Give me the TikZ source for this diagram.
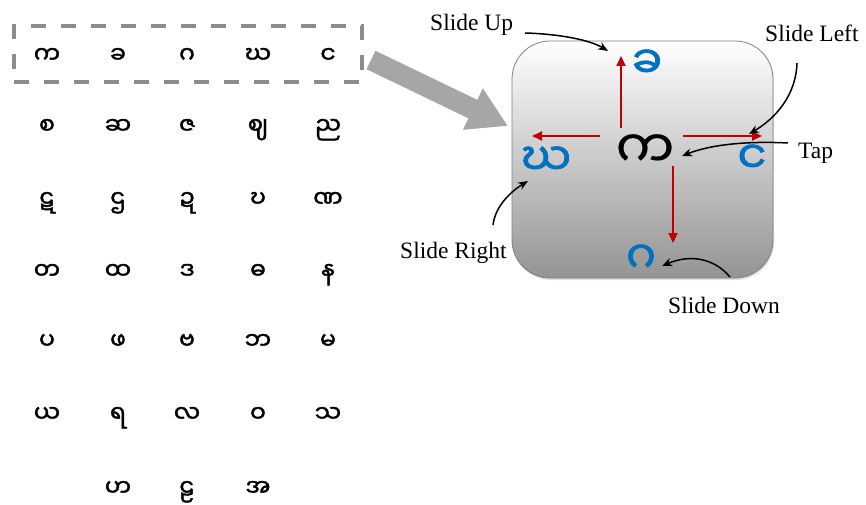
\documentclass[tikz,border=0pt]{standalone}
\usepackage{fontspec}
\setmainfont{Liberation Serif}
\newfontfamily\mya[Script=Myanmar,FakeBold=0.6]{Noto Sans Myanmar UI}
\newfontfamily\myab[Script=Myanmar,FakeBold=1.6]{Noto Sans Myanmar UI}
\usetikzlibrary{arrows.meta,shadows}
\definecolor{padblue}{HTML}{0070C0}
\definecolor{arrred}{HTML}{C00000}
\begin{document}
\begin{tikzpicture}[x=1pt,y=-1pt,
  gridch/.style={font=\myab\fontsize{23.5}{26}\selectfont, anchor=base, inner sep=0pt},
  bluech/.style={font=\myab\fontsize{45}{48}\selectfont, text=padblue, inner sep=0pt},
  lbl/.style={font=\fontsize{23.5}{26}\selectfont, anchor=base west, inner sep=0pt},
  redarr/.style={draw=arrred, line width=2.2pt, -{Triangle[length=10pt,width=9pt,fill=arrred]}},
  callout/.style={draw=black, line width=1.5pt, -{Stealth[length=10pt,width=8pt]}},
  dashbox/.style={draw=black!45, line width=3.2pt, dash pattern=on 15pt off 15pt, minimum width=348pt, minimum height=56pt, inner sep=0pt},
  pad/.style={draw=black!50, line width=0.8pt, rounded corners=38pt, minimum width=261pt, minimum height=237pt, top color=white, bottom color=black!42, drop shadow={opacity=0.25, shadow xshift=1pt, shadow yshift=-2pt}}]
\useasboundingbox (0,0) rectangle (866,505);

% selection box
\node[dashbox] (sel) at (188,54) {};

% grid of consonants
\node[gridch] (g11) at (47,63) {က};
\node[gridch] (g12) at (118,63) {ခ};
\node[gridch] (g13) at (187,63) {ဂ};
\node[gridch] (g14) at (258,63) {ဃ};
\node[gridch] (g15) at (328,63) {င};

\node[gridch] (g21) at (47,134) {စ};
\node[gridch] (g22) at (118,134) {ဆ};
\node[gridch] (g23) at (187,134) {ဇ};
\node[gridch] (g24) at (258,134) {ဈ};
\node[gridch] (g25) at (328,134) {ည};

\node[gridch] (g31) at (47,207) {ဋ};
\node[gridch] (g32) at (118,207) {ဌ};
\node[gridch] (g33) at (187,207) {ဍ};
\node[gridch] (g34) at (258,207) {ဎ};
\node[gridch] (g35) at (328,207) {ဏ};

\node[gridch] (g41) at (47,279) {တ};
\node[gridch] (g42) at (118,279) {ထ};
\node[gridch] (g43) at (187,279) {ဒ};
\node[gridch] (g44) at (258,279) {ဓ};
\node[gridch] (g45) at (328,279) {န};

\node[gridch] (g51) at (47,349) {ပ};
\node[gridch] (g52) at (118,349) {ဖ};
\node[gridch] (g53) at (187,349) {ဗ};
\node[gridch] (g54) at (258,349) {ဘ};
\node[gridch] (g55) at (328,349) {မ};

\node[gridch] (g61) at (47,422) {ယ};
\node[gridch] (g62) at (118,422) {ရ};
\node[gridch] (g63) at (187,422) {လ};
\node[gridch] (g64) at (258,422) {ဝ};
\node[gridch] (g65) at (328,422) {သ};

\node[gridch] (g72) at (118,496) {ဟ};
\node[gridch] (g73) at (187,496) {ဠ};
\node[gridch] (g74) at (258,496) {အ};

% big grey arrow
\coordinate (bigtail) at (371,60);
\coordinate (bigtip) at (508,126);
\draw[line width=20.5pt, draw=black!35, -{Triangle[length=39pt,width=43pt,fill=black!35]}] (bigtail) -- (bigtip);

% key pad
\node[pad] (keypad) at (642.5,159.5) {};
\node[font=\mya\fontsize{52}{56}\selectfont, inner sep=0pt] (center) at (645,151) {က};
\node[bluech] (up) at (647,64) {ခ};
\node[bluech] (left) at (546,161) {ဃ};
\node[bluech] (right) at (752,159) {င};
\node[bluech] (down) at (641,259) {ဂ};

% red swipe arrows
\coordinate (uS) at (621,128); \coordinate (uE) at (621,56);
\coordinate (lS) at (600,136); \coordinate (lE) at (532,136);
\coordinate (rS) at (683,136); \coordinate (rE) at (762,136);
\coordinate (dS) at (673,166); \coordinate (dE) at (673,243);
\draw[redarr] (uS) -- (uE);
\draw[redarr] (lS) -- (lE);
\draw[redarr] (rS) -- (rE);
\draw[redarr] (dS) -- (dE);

% labels
\node[lbl] (tUp) at (430,31) {Slide Up};
\node[lbl] (tLeft) at (765,42) {Slide Left};
\node[lbl] (tTap) at (798,158) {Tap};
\node[lbl] (tRight) at (400,258) {Slide Right};
\node[lbl] (tDown) at (668,313) {Slide Down};

% callout arrows
\coordinate (cUpS) at (525,33); \coordinate (cUpE) at (608,51);
\coordinate (cLeS) at (797,63); \coordinate (cLeE) at (749,134);
\coordinate (cTaS) at (788,143); \coordinate (cTaE) at (682,156);
\coordinate (cRiS) at (493,225); \coordinate (cRiE) at (528,181);
\coordinate (cDoS) at (730,277); \coordinate (cDoE) at (662,266);
\draw[callout] (cUpS) .. controls (560,34) and (590,40) .. (cUpE);
\draw[callout] (cLeS) .. controls (796,95) and (776,118) .. (cLeE);
\draw[callout] (cTaS) .. controls (750,141) and (712,144) .. (cTaE);
\draw[callout] (cRiS) .. controls (495,207) and (510,192) .. (cRiE);
\draw[callout] (cDoS) .. controls (714,258) and (690,254) .. (cDoE);
\end{tikzpicture}
\end{document}
